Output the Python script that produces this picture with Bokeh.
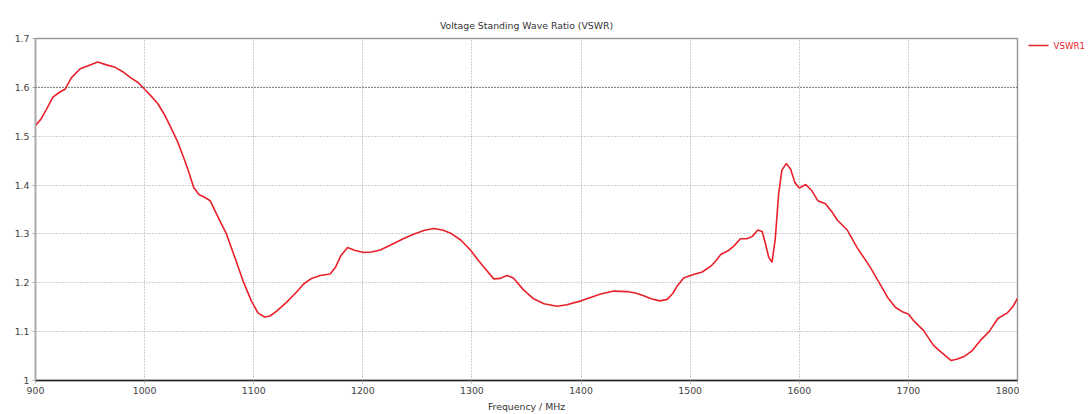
from bokeh.plotting import figure
from bokeh.layouts import row
from bokeh.models import FixedTicker, Span, Range1d
from bokeh.core.properties import value
from bokeh.embed import file_html
from bokeh.resources import INLINE

freq_mhz = [900, 905, 910, 916, 922, 927, 933, 941, 950, 957, 965, 973, 980, 987, 994,
            1000, 1006, 1012, 1018, 1024, 1030, 1036, 1040, 1045, 1050, 1055, 1060, 1065,
            1070, 1075, 1083, 1090, 1098, 1104, 1110, 1115, 1121, 1130, 1138, 1146, 1153,
            1161, 1170, 1175, 1180, 1186, 1193, 1201, 1208, 1216, 1226, 1237, 1247, 1256,
            1265, 1273, 1280, 1290, 1299, 1305, 1311, 1320, 1326, 1332, 1338, 1347, 1356,
            1366, 1378, 1387, 1400, 1410, 1418, 1430, 1442, 1450, 1458, 1465, 1472, 1479,
            1484, 1488, 1494, 1503, 1511, 1519, 1524, 1528, 1535, 1540, 1546, 1552, 1557,
            1562, 1566, 1569, 1572, 1575, 1578, 1581, 1584, 1588, 1592, 1596, 1600, 1606,
            1611, 1617, 1624, 1630, 1635, 1644, 1653, 1665, 1672, 1681, 1688, 1695, 1700,
            1705, 1714, 1723, 1730, 1739, 1745, 1751, 1758, 1766, 1774, 1782, 1791, 1796, 1800]
vswr1 = [1.522, 1.535, 1.555, 1.580, 1.590, 1.596, 1.620, 1.638, 1.646, 1.652, 1.646, 1.641,
         1.632, 1.620, 1.610, 1.596, 1.582, 1.567, 1.545, 1.518, 1.490, 1.455, 1.430, 1.395,
         1.380, 1.375, 1.368, 1.345, 1.322, 1.300, 1.250, 1.205, 1.162, 1.138, 1.130, 1.132,
         1.142, 1.160, 1.178, 1.198, 1.209, 1.215, 1.218, 1.232, 1.256, 1.272, 1.266, 1.262,
         1.263, 1.267, 1.278, 1.290, 1.300, 1.307, 1.311, 1.308, 1.302, 1.287, 1.266, 1.248,
         1.232, 1.208, 1.209, 1.215, 1.210, 1.186, 1.168, 1.157, 1.152, 1.155, 1.163, 1.171,
         1.177, 1.183, 1.182, 1.179, 1.173, 1.167, 1.163, 1.166, 1.178, 1.193, 1.210, 1.217,
         1.222, 1.234, 1.246, 1.258, 1.266, 1.275, 1.290, 1.290, 1.295, 1.308, 1.305, 1.280,
         1.252, 1.242, 1.290, 1.380, 1.430, 1.444, 1.433, 1.405, 1.394, 1.401, 1.390, 1.368,
         1.362, 1.345, 1.328, 1.308, 1.272, 1.232, 1.205, 1.170, 1.150, 1.140, 1.136, 1.122,
         1.102, 1.072, 1.058, 1.041, 1.044, 1.049, 1.060, 1.082, 1.100, 1.127, 1.139, 1.152,
         1.168]

x_ticks = [900, 1000, 1100, 1200, 1300, 1400, 1500, 1600, 1700, 1800]
y_ticks = [1.0, 1.1, 1.2, 1.3, 1.4, 1.5, 1.6, 1.7]
y_tick_labels = ["1", "1.1", "1.2", "1.3", "1.4", "1.5", "1.6", "1.7"]
limit_line = 1.6
series_name = "VSWR1"

FONT = "DejaVu Sans"
RED = "#e8212b"

p = figure(width=1019, height=414, output_backend="svg", toolbar_location=None,
           x_range=Range1d(900, 1800), y_range=Range1d(1.0, 1.7),
           title="Voltage Standing Wave Ratio (VSWR)",
           min_border_left=35, min_border_right=2, min_border_top=38, min_border_bottom=34)

p.title.align = "center"
p.title.text_font = FONT
p.title.text_font_size = "7pt"
p.title.text_font_style = "normal"
p.title.text_color = "#333333"
p.title.offset = 0
p.title.standoff = 16

r = p.line(freq_mhz, vswr1, line_color=RED, line_width=1.6)

p.xaxis.ticker = FixedTicker(ticks=x_ticks)
p.yaxis.ticker = FixedTicker(ticks=y_ticks)
p.yaxis.major_label_overrides = {t: l for t, l in zip(y_ticks, y_tick_labels)}
p.xaxis.axis_label = "Frequency / MHz"
p.xaxis.axis_label_text_font = FONT
p.xaxis.axis_label_text_font_size = "7pt"
p.xaxis.axis_label_text_font_style = "normal"
p.xaxis.axis_label_text_color = "#333333"
p.xaxis.axis_label_standoff = 4

for ax in (p.xaxis, p.yaxis):
    ax.major_label_text_font = FONT
    ax.major_label_text_font_size = "7pt"
    ax.major_label_text_color = "#444444"
    ax.minor_tick_line_color = None
    ax.major_tick_in = 0
    ax.major_tick_out = 3
    ax.major_label_standoff = 3

p.xaxis.axis_line_color = "#222222"
p.xaxis.axis_line_width = 1.5
p.xaxis.major_tick_line_color = "#aaaaaa"
p.yaxis.axis_line_color = "#a8a8a8"
p.yaxis.axis_line_width = 1.5
p.yaxis.major_tick_line_color = "#a8a8a8"

p.outline_line_color = "#9a9a9a"
p.outline_line_width = 1.5

for g in (p.xgrid, p.ygrid):
    g.grid_line_color = "#a0a0a0"
    g.grid_line_dash = "1 2"
    g.grid_line_width = 1

p.xgrid.ticker = FixedTicker(ticks=x_ticks)
p.ygrid.ticker = FixedTicker(ticks=y_ticks)

p.add_layout(Span(location=limit_line, dimension="width", line_color="#222222",
                  line_dash="1 2", line_width=1))

# legend panel to the right of the plot; its frame is aligned with the main frame
# (screen rows 38..380), so the y range maps directly to pixel rows
pl = figure(width=70, height=414, output_backend="svg", toolbar_location=None,
            x_range=Range1d(0, 70), y_range=Range1d(380, 38),
            x_axis_type=None, y_axis_type=None,
            min_border_left=0, min_border_right=0, min_border_top=0, min_border_bottom=0)
pl.grid.visible = False
pl.outline_line_color = None
pl.segment(x0=[9], y0=[45], x1=[29], y1=[45], line_color=RED, line_width=1.6)
pl.text(x=[34], y=[45], text=[series_name], text_color=RED,
        text_font=value(FONT), text_font_size="6.5pt", text_baseline="middle",
        text_align="left")

layout = row(p, pl, spacing=0)

open("out.html", "w").write(file_html(layout, INLINE))
